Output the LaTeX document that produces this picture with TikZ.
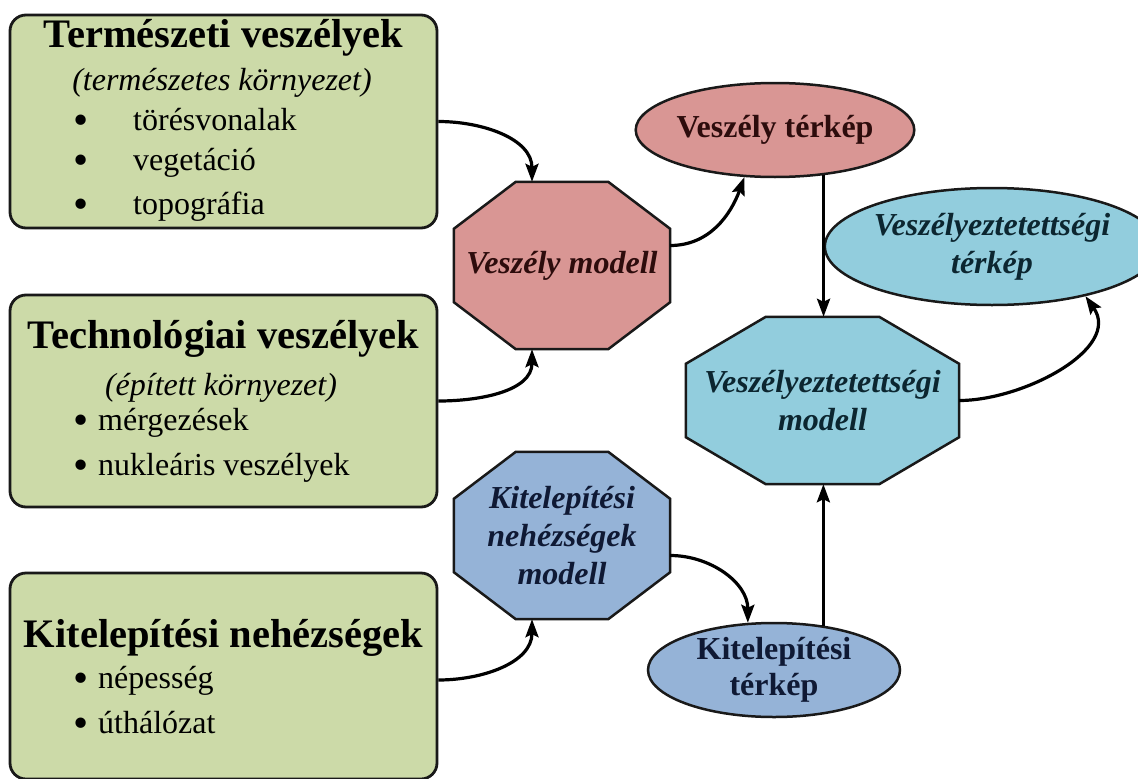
\documentclass[tikz,border=0pt]{standalone}
\usepackage{fontspec}
\setmainfont{Liberation Serif}
\usetikzlibrary{arrows.meta,shapes.geometric,backgrounds}
\definecolor{boxgreen}{RGB}{204,218,168}
\definecolor{hazred}{RGB}{217,150,148}
\definecolor{riskteal}{RGB}{146,205,221}
\definecolor{evacblue}{RGB}{149,179,215}
\definecolor{outline}{RGB}{25,25,25}
\definecolor{redtext}{RGB}{45,12,12}
\definecolor{tealtext}{RGB}{12,38,48}
\definecolor{bluetext}{RGB}{15,25,52}
\newcommand{\itembullet}[1]{\makebox[#1][l]{\raisebox{-4pt}{\scalebox{1.35}{\textbullet}}}}
\begin{document}
\begin{tikzpicture}[x=1pt,y=1pt,
  srcbox/.style={draw=outline, line width=2.8pt, fill=boxgreen, rounded corners=16pt, inner sep=0pt, minimum width=427pt},
  octa/.style={rectangle, inner sep=0pt, outer sep=1.2pt, minimum width=214pt, minimum height=165pt, align=center, font=\fontsize{32}{38}\selectfont\bfseries\itshape},
  octline/.style={draw=outline, line width=2.5pt, line join=miter},
  mapell/.style={ellipse, draw=outline, line width=2.5pt, inner sep=0pt, align=center, font=\fontsize{32}{36}\selectfont\bfseries},
  boxtitle/.style={anchor=base, inner sep=0pt, font=\fontsize{40.5}{48}\selectfont\bfseries},
  boxsub/.style={anchor=base, inner sep=0pt, font=\fontsize{32}{38}\selectfont\itshape},
  boxitem/.style={anchor=base west, inner sep=0pt, font=\fontsize{32}{38}\selectfont},
  flow/.style={line width=3.2pt, -{Stealth[length=18pt,width=13pt,inset=3pt]}}
]
\useasboundingbox (0,0) rectangle (1138,-779);

% left column
\node[srcbox, minimum height=213pt] (termbox) at (223.5,-121.5) {};
\node[boxtitle] (termtitle) at (223.5,-47) {Természeti veszélyek};
\node[boxsub] (termsub) at (222,-90) {(természetes környezet)};
\node[boxitem] (termitem1) at (73,-130) {\itembullet{60pt}törésvonalak};
\node[boxitem] (termitem2) at (73,-170) {\itembullet{60pt}vegetáció};
\node[boxitem] (termitem3) at (73,-214) {\itembullet{60pt}topográfia};

\node[srcbox, minimum height=212pt] (techbox) at (223.5,-401) {};
\node[boxtitle] (techtitle) at (223.5,-348) {Technológiai veszélyek};
\node[boxsub] (techsub) at (221,-395) {(épített környezet)};
\node[boxitem] (techitem1) at (73,-430) {\itembullet{25pt}mérgezések};
\node[boxitem] (techitem2) at (73,-475) {\itembullet{25pt}nukleáris veszélyek};

\node[srcbox, minimum height=206pt] (evacbox) at (223.5,-676) {};
\node[boxtitle] (evactitle) at (223.5,-647) {Kitelepítési nehézségek};
\node[boxitem] (evacitem1) at (73,-688) {\itembullet{25pt}népesség};
\node[boxitem] (evacitem2) at (73,-733) {\itembullet{25pt}úthálózat};

% models and maps
\node[octa, text=redtext] (hazmodel) at (562,-265.5) {Veszély modell};
\node[octa, text=bluetext] (evacmodel) at (562,-535.5) {Kitelepítési\\nehézségek\\modell};
\node[octa, text=tealtext, minimum width=271pt] (riskmodel) at (822.5,-400.5) {Veszélyeztetettségi\\modell};

\begin{scope}[on background layer]
\fill[white] (0,0) rectangle (1138,-779);
\foreach \oct/\col/\cx in {hazmodel/hazred/62, evacmodel/evacblue/62, riskmodel/riskteal/80}
  \draw[octline, fill=\col] ([xshift=\cx pt]\oct.north west) -- ([xshift=-\cx pt]\oct.north east)
    -- ([yshift=-47pt]\oct.north east) -- ([yshift=47pt]\oct.south east)
    -- ([xshift=-\cx pt]\oct.south east) -- ([xshift=\cx pt]\oct.south west)
    -- ([yshift=47pt]\oct.south west) -- ([yshift=-47pt]\oct.north west) -- cycle;
\end{scope}

\node[mapell, fill=hazred, text=redtext, minimum width=254pt, minimum height=94pt] (hazmap) at (775,-130) {Veszély térkép};
\node[mapell, fill=riskteal, text=tealtext, minimum width=294pt, minimum height=117pt, font=\fontsize{32}{38}\selectfont\bfseries\itshape] (riskmap) at (992,-246.5) {Veszélyeztetettségi\\térkép};
\node[mapell, fill=evacblue, text=bluetext, minimum width=252pt, minimum height=94pt] (evacmap) at (774,-670) {Kitelepítési\\térkép};

% connectors
\draw[flow] (termbox.east) to[out=0,in=90] ([xshift=-30pt]hazmodel.north);
\draw[flow] (techbox.east) to[out=0,in=-90] ([xshift=-30pt]hazmodel.south);
\draw[flow] ([yshift=20pt]hazmodel.east) to[out=0,in=-110] (hazmap.-123);
\draw[flow] (hazmap.-43) -- (hazmap.-43 |- riskmodel.north);
\draw[flow] (riskmodel.east) to[out=0,in=-55] (riskmap.-28);
\draw[flow] ([yshift=-4pt]evacbox.east) to[out=0,in=-90] ([xshift=-30pt]evacmodel.south);
\draw[flow] ([yshift=-20pt]evacmodel.east) to[out=0,in=90] (evacmap.119);
\draw[flow] (evacmap.42) -- (evacmap.42 |- riskmodel.south);

\end{tikzpicture}
\end{document}
